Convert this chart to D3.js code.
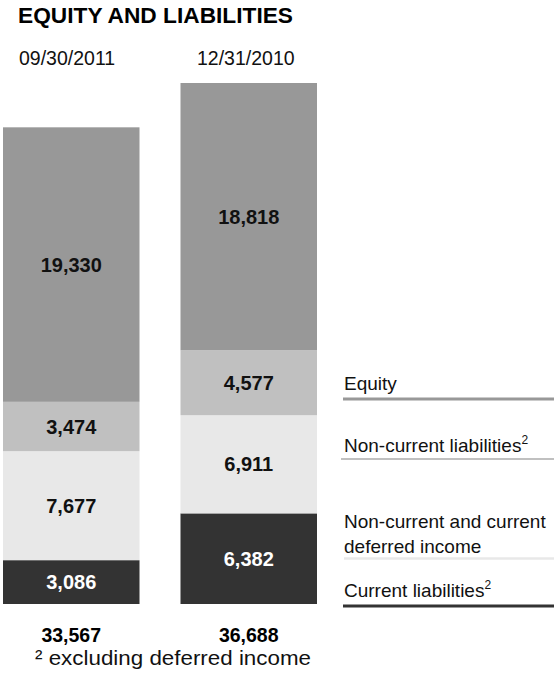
<!DOCTYPE html>
<html>
<head>
<meta charset="utf-8">
<script src="https://cdn.jsdelivr.net/npm/d3@7"></script>
<style>
  html, body { margin: 0; padding: 0; background: #fff; }
  svg { display: block; font-family: "Liberation Sans", Arial, Helvetica, sans-serif; }
</style>
</head>
<body>
<svg id="chart" width="554" height="680"></svg>
<script>
// ---- data ----
const title = "EQUITY AND LIABILITIES";
const categories = ["09/30/2011", "12/31/2010"];
const seriesNames = ["Current liabilities", "Non-current and current deferred income", "Non-current liabilities", "Equity"];
const currentLiabilities = [3086, 6382];
const deferredIncome = [7677, 6911];
const nonCurrentLiabilities = [3474, 4577];
const equity = [19330, 18818];
const totals = [33567, 36688];
const footnote = "² excluding deferred income";

// ---- styles ----
const colors = ["#333333", "#e8e8e8", "#c0c0c0", "#989898"];
const labelColors = ["#ffffff", "#111111", "#111111", "#111111"];

const svg = d3.select("#chart");

const rows = categories.map((c, i) => ({
  cat: c,
  "Current liabilities": currentLiabilities[i],
  "Non-current and current deferred income": deferredIncome[i],
  "Non-current liabilities": nonCurrentLiabilities[i],
  "Equity": equity[i]
}));
const stack = d3.stack().keys(seriesNames)(rows);

const x = d3.scaleBand().domain(categories).range([3, 317]).paddingInner(0.231).paddingOuter(0);
const y = d3.scaleLinear().domain([0, d3.max(totals)]).range([604, 83]);

// title
svg.append("text").attr("x", 18).attr("y", 23)
  .attr("font-size", 21.5).attr("font-weight", "bold").attr("fill", "#000")
  .attr("textLength", 275).attr("lengthAdjust", "spacingAndGlyphs")
  .text(title);

// date headers
svg.selectAll("text.date").data(categories).join("text")
  .attr("class", "date")
  .attr("x", (d, i) => i === 0 ? 19 : 197).attr("y", 65)
  .attr("font-size", 19.5).attr("fill", "#111")
  .text(d => d);

// bars
const layer = svg.selectAll("g.layer").data(stack).join("g")
  .attr("class", "layer").attr("fill", (d, i) => colors[i]);
layer.selectAll("rect").data(d => d).join("rect")
  .attr("x", d => x(d.data.cat))
  .attr("width", x.bandwidth())
  .attr("y", d => y(d[1]))
  .attr("height", d => y(d[0]) - y(d[1]));

// segment labels
const fmt = d3.format(",");
stack.forEach((s, si) => {
  svg.selectAll("text.seg" + si).data(s).join("text")
    .attr("class", "seg" + si)
    .attr("x", d => x(d.data.cat) + x.bandwidth() / 2)
    .attr("y", d => (y(d[0]) + y(d[1])) / 2)
    .attr("dy", "0.36em")
    .attr("text-anchor", "middle")
    .attr("font-size", 20).attr("font-weight", "bold")
    .attr("fill", labelColors[si])
    .text(d => fmt(d[1] - d[0]));
});

// totals
svg.selectAll("text.total").data(totals).join("text")
  .attr("class", "total")
  .attr("x", (d, i) => x(categories[i]) + x.bandwidth() / 2)
  .attr("y", 642)
  .attr("text-anchor", "middle")
  .attr("font-size", 19.5).attr("font-weight", "bold").attr("fill", "#000")
  .text(d => fmt(d));

// footnote
svg.append("text").attr("x", 35).attr("y", 665)
  .attr("font-size", 20.5).attr("fill", "#111")
  .attr("textLength", 276).attr("lengthAdjust", "spacingAndGlyphs")
  .text(footnote);

// legend (label lines)
const legend = [
  { lines: ["Equity"], sup: false, baselines: [390], lineY: 399, lineX: 343, color: colors[3], w: 3 },
  { lines: ["Non-current liabilities"], sup: true, baselines: [452], lineY: 459, lineX: 341, color: colors[2], w: 2 },
  { lines: ["Non-current and current", "deferred income"], sup: false, baselines: [528, 553], lineY: 558.5, lineX: 344, color: colors[1], w: 2.5 },
  { lines: ["Current liabilities"], sup: true, baselines: [597], lineY: 606, lineX: 343, color: colors[0], w: 3 }
];
legend.forEach(l => {
  svg.append("line")
    .attr("x1", l.lineX).attr("x2", 554)
    .attr("y1", l.lineY).attr("y2", l.lineY)
    .attr("stroke", l.color).attr("stroke-width", l.w);
  l.lines.forEach((t, k) => {
    const tx = svg.append("text").attr("x", 344).attr("y", l.baselines[k])
      .attr("font-size", 19).attr("fill", "#111");
    tx.append("tspan").text(t);
    if (l.sup && k === l.lines.length - 1) {
      tx.append("tspan").attr("font-size", 12).attr("dy", -8).text("2");
    }
  });
});
</script>
</body>
</html>
